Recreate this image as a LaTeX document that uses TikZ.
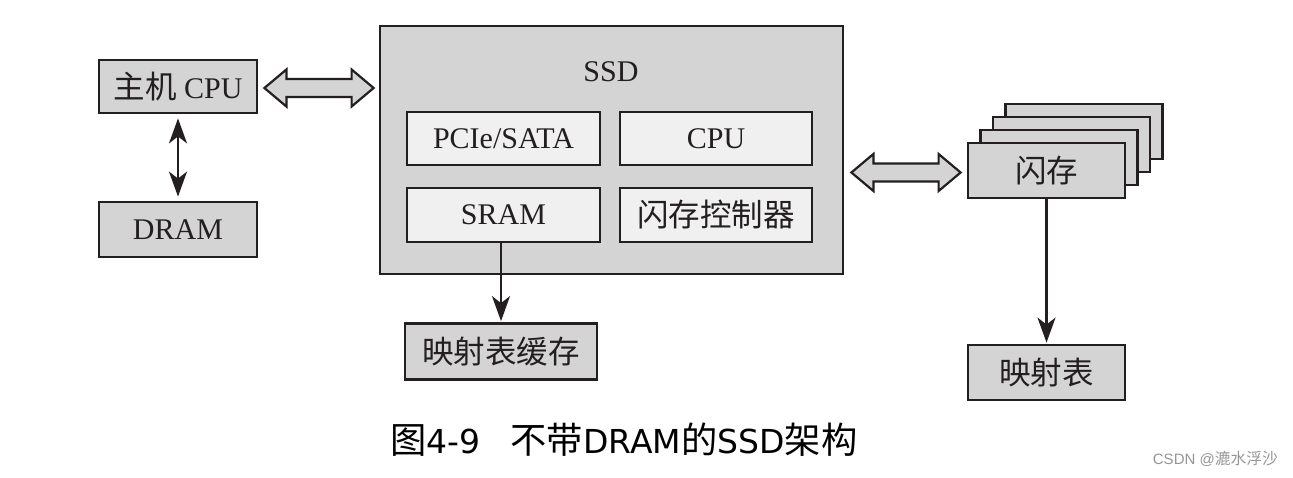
\documentclass[tikz,border=0pt]{standalone}
\usepackage{fontspec}
\setmainfont{Liberation Serif}
\newfontfamily\cjk[Scale=1.05]{Noto Sans CJK SC}
\newfontfamily\capcjk[Scale=1.1]{Noto Sans CJK SC}
\newfontfamily\capfont{DejaVu Sans}
\newfontfamily\wmfont{Liberation Sans}
\usetikzlibrary{arrows.meta,calc}
\definecolor{lc}{RGB}{35,31,32}
\definecolor{boxgray}{RGB}{212,212,212}
\definecolor{innergray}{RGB}{240,240,240}
\definecolor{wmgray}{RGB}{150,150,150}
\begin{document}
\begin{tikzpicture}[x=1pt,y=-1pt,
  box/.style={draw=lc, line width=2.8pt, fill=boxgray, inner sep=0pt, font=\fontsize{30}{36}\selectfont, text=lc},
  inbox/.style={box, fill=innergray},
  arr/.style={draw=lc, line width=2.2pt, -{Stealth[length=25pt,width=18pt,inset=7pt]}},
  darr/.style={draw=lc, line width=2.2pt, {Stealth[length=25pt,width=18pt,inset=7pt]}-{Stealth[length=25pt,width=18pt,inset=7pt]}},
  hollow/.style={draw=lc, line width=2.2pt, fill=boxgray, line join=miter},
]
\useasboundingbox[fill=white] (0,0) rectangle (1293,477);

% left side
\node[box, minimum width=158pt, minimum height=53pt] (hcpu) at (178,86.5) {{\cjk 主机} CPU};
\node[box, minimum width=158pt, minimum height=55pt] (dram) at (178,229.5) {DRAM};

% SSD
\node[box, minimum width=463pt, minimum height=248pt] (ssd) at (611.5,150) {};
\node[inner sep=0pt, font=\fontsize{30}{36}\selectfont, text=lc] (ssdlabel) at (611,72) {SSD};
\node[inbox, minimum width=193pt, minimum height=53pt] (pcie) at (503.5,138.5) {PCIe/SATA};
\node[inbox, minimum width=192pt, minimum height=53pt] (icpu) at (716,138.5) {CPU};
\node[inbox, minimum width=193pt, minimum height=54pt] (sram) at (503.5,215) {SRAM};
\node[inbox, minimum width=192pt, minimum height=54pt] (fctl) at (716,215) {\cjk 闪存控制器};

\node[box, minimum width=192pt, minimum height=56pt] (cache) at (501,351.5) {\cjk 映射表缓存};

% flash stack
\node[box, minimum width=157pt, minimum height=55pt] (flash3) at (1084,131.5) {};
\node[box, minimum width=157pt, minimum height=55pt] (flash2) at (1071.5,144.5) {};
\node[box, minimum width=157pt, minimum height=55pt] (flash1) at (1059,157.5) {};
\node[box, minimum width=157pt, minimum height=55pt] (flash) at (1046.5,170.5) {\cjk 闪存};
\node[box, minimum width=157pt, minimum height=55pt] (map) at (1046.5,372.5) {\cjk 映射表};

% connectors
\draw[darr, shorten <=4pt, shorten >=4pt] (hcpu.south) -- (dram.north);
\draw[arr, shorten >=1pt] (sram.south -| 501,0) -- (cache.north -| 501,0);
\draw[arr, shorten >=1pt] (flash.south) -- (map.north);

\coordinate (l1) at ($(hcpu.east)+(6,1.5)$);
\coordinate (l2) at ($(ssd.west |- l1)+(-5,0)$);
\draw[hollow] (l1) -- ++(22,-18.5) -- ++(0,9.5) -- ($(l2)+(-22,-9)$) -- ++(0,-9.5) -- (l2)
  -- ++(-22,18.5) -- ++(0,-9.5) -- ($(l1)+(22,9)$) -- ++(0,9.5) -- cycle;

\coordinate (r1) at ($(ssd.east |- flash.west)+(7,2)$);
\coordinate (r2) at ($(flash.west)+(-6,2)$);
\draw[hollow] (r1) -- ++(22,-18.5) -- ++(0,9.5) -- ($(r2)+(-22,-9)$) -- ++(0,-9.5) -- (r2)
  -- ++(-22,18.5) -- ++(0,-9.5) -- ($(r1)+(22,9)$) -- ++(0,9.5) -- cycle;

% caption and watermark
\node[inner sep=0pt, font=\fontsize{33}{38}\selectfont] (cap) at (624,440)
  {{\capcjk 图}{\capfont 4-9}\hspace{0.9em}{\capcjk 不带}{\capfont DRAM}{\capcjk 的}{\capfont SSD}{\capcjk 架构}};
\node[inner sep=0pt, anchor=east, text=wmgray, font=\fontsize{15}{18}\selectfont\wmfont] (wm) at (1278,459) {CSDN @{\cjk 漉水浮沙}};
\end{tikzpicture}
\end{document}
